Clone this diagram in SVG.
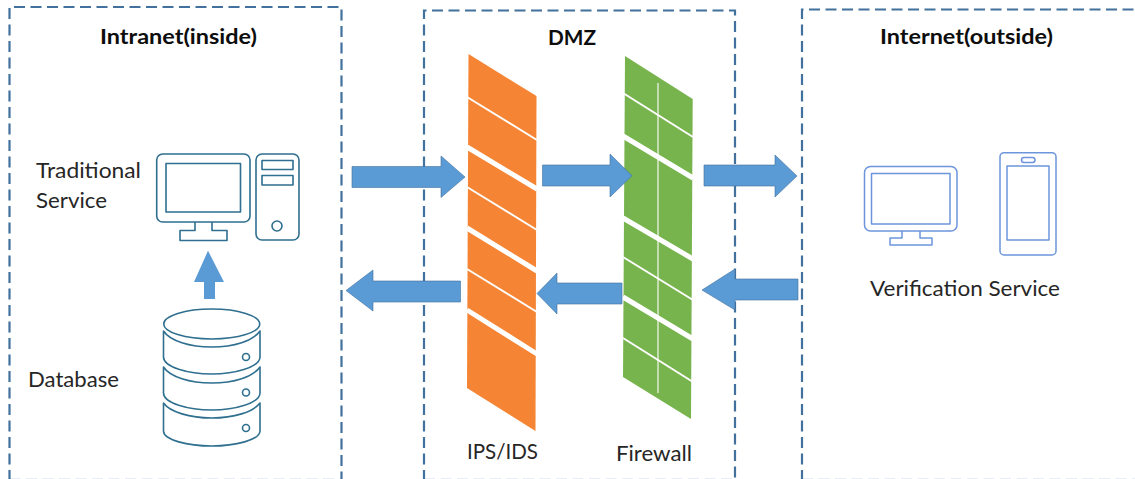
<svg xmlns="http://www.w3.org/2000/svg" width="1135" height="479" viewBox="0 0 1135 479">
<style>
text{font-family:"Lato","Open Sans","Liberation Sans",sans-serif;font-size:21px;fill:#262626}
.h{font-weight:700;fill:#0d0d0d}
.zone{fill:none;stroke:#41719C;stroke-width:2.200;stroke-dasharray:11 5.500}
.foot{fill:none;stroke:#41719C;stroke-width:1;stroke-dasharray:11 5.500;opacity:.12}
.ic{fill:none;stroke:#2F6F8F;stroke-width:1.600;stroke-linejoin:round}
.ic2{fill:none;stroke:#6C95DB;stroke-width:1.500;stroke-linejoin:round}
.ar{fill:#5B9BD5;stroke:#41719C;stroke-width:.6}
.up{fill:#5B9BD5}
.t{stroke:#fff;stroke-width:2;fill:none}
.k{stroke:#fff;stroke-width:5;fill:none}
</style>
<rect width="1135" height="479" fill="#fff"/>
<g id="zone-intranet">
<path class="zone" d="M9.500 481V7H341.500V481"/>
<path class="foot" d="M9.500 478.500H341.500"/>
<text class="h" x="100" y="44" textLength="157" lengthAdjust="spacingAndGlyphs">Intranet(inside)</text>
</g>
<g id="zone-dmz">
<path class="zone" d="M424 481V10.500H735V481"/>
<path class="foot" d="M424 478.500H735"/>
<text class="h" x="548" y="45" textLength="48" lengthAdjust="spacingAndGlyphs">DMZ</text>
</g>
<g id="zone-internet">
<path class="zone" d="M802 481V9.500H1137"/>
<path class="foot" d="M802 478.500H1135"/>
<text class="h" x="880" y="44" textLength="173" lengthAdjust="spacingAndGlyphs">Internet(outside)</text>
</g>
<g id="ips-ids">
<path d="M468.500 54L536.500 96L535.500 431L467 388Z" fill="#F58534"/>
<path class="t" d="M467 97L537 140M467 187L537 230M467 269L537 312"/>
<path class="k" d="M467 147L537 189M467 228L537 271M467 310L537 354"/>
<text x="467" y="459" textLength="71" lengthAdjust="spacingAndGlyphs">IPS/IDS</text>
</g>
<g id="firewall">
<path d="M625 56L692.700 99L691 419L623 377Z" fill="#77B44D"/>
<path d="M658 83V393" stroke="#C4DDB0" stroke-width="2"/>
<path class="t" d="M623 93L693 137M623 257L693 300M623 338L693 382"/>
<path class="k" d="M623 136L693 178M623 218L693 259M623 297L693 339"/>
<text x="616" y="461" textLength="76" lengthAdjust="spacingAndGlyphs">Firewall</text>
</g>
<g id="traditional-service">
<text x="36" y="178" textLength="105" lengthAdjust="spacingAndGlyphs">Traditional</text>
<text x="36" y="208" textLength="71" lengthAdjust="spacingAndGlyphs">Service</text>
<rect class="ic" x="156.700" y="154" width="93.300" height="68" rx="6"/>
<rect class="ic" x="166" y="163.500" width="74.500" height="48.500"/>
<path class="ic" d="M195 222V230.500H180V240.500H227V230.500H212V222"/>
<rect class="ic" x="256" y="154" width="43" height="86" rx="6"/>
<rect class="ic" x="262" y="160.500" width="31" height="9"/>
<rect class="ic" x="262" y="175.500" width="31" height="9.500"/>
<circle class="ic" cx="277" cy="226" r="5"/>
</g>
<g id="database">
<text x="28" y="387" textLength="91" lengthAdjust="spacingAndGlyphs">Database</text>
<ellipse class="ic" cx="211.700" cy="324" rx="48" ry="15"/>
<path class="ic" d="M163.500 331C170 341 190 347 211.700 347C234 347 253 341 260 331V357C260 367 235 374 211.700 374C188 374 163.500 367 163.500 357Z"/>
<path class="ic" d="M163.500 367C170 377 190 383 211.700 383C234 383 253 377 260 367V393C260 403 235 410 211.700 410C188 410 163.500 403 163.500 393Z"/>
<path class="ic" d="M163.500 403C170 412 190 418 211.700 418C234 418 253 412 260 403V431C260 440 235 446 211.700 446C188 446 163.500 440 163.500 431Z"/>
<circle class="ic" cx="246" cy="357" r="3.500"/>
<circle class="ic" cx="246" cy="392.500" r="3.500"/>
<circle class="ic" cx="246" cy="428" r="3.500"/>
</g>
<g id="verification-service">
<rect class="ic2" x="864.500" y="166.500" width="92.500" height="64.500" rx="6"/>
<rect class="ic2" x="871.500" y="173.500" width="78.500" height="50.500"/>
<path class="ic2" d="M902 231V238H890V245H932V238H920V231"/>
<rect class="ic2" x="1000" y="152.700" width="56" height="102.300" rx="4"/>
<rect class="ic2" x="1007" y="166" width="42" height="74"/>
<rect class="ic2" x="1021.500" y="157.500" width="13.500" height="5" rx="2.500"/>
<text x="870" y="296" textLength="190" lengthAdjust="spacingAndGlyphs">Verification Service</text>
</g>
<g id="connectors">
<path class="up" d="M208 250.700L224 282H215V299H204V282H194Z"/>
<path class="ar" d="M352 166.500H441V156L465 177L441 197.500V187.500H352Z"/>
<path class="ar" d="M542.500 165H610V154L632 175.700L610 197V186H542.500Z"/>
<path class="ar" d="M704 165H775V155L797 176L775 197V186H704Z"/>
<path class="ar" d="M798 279H735V269L702 290L735 310V300H798Z"/>
<path class="ar" d="M622 283H557V273L537 293.500L557 314V304H622Z"/>
<path class="ar" d="M460.500 281H373V270L346 290.500L373 311V302H460.500Z"/>
</g>
</svg>
